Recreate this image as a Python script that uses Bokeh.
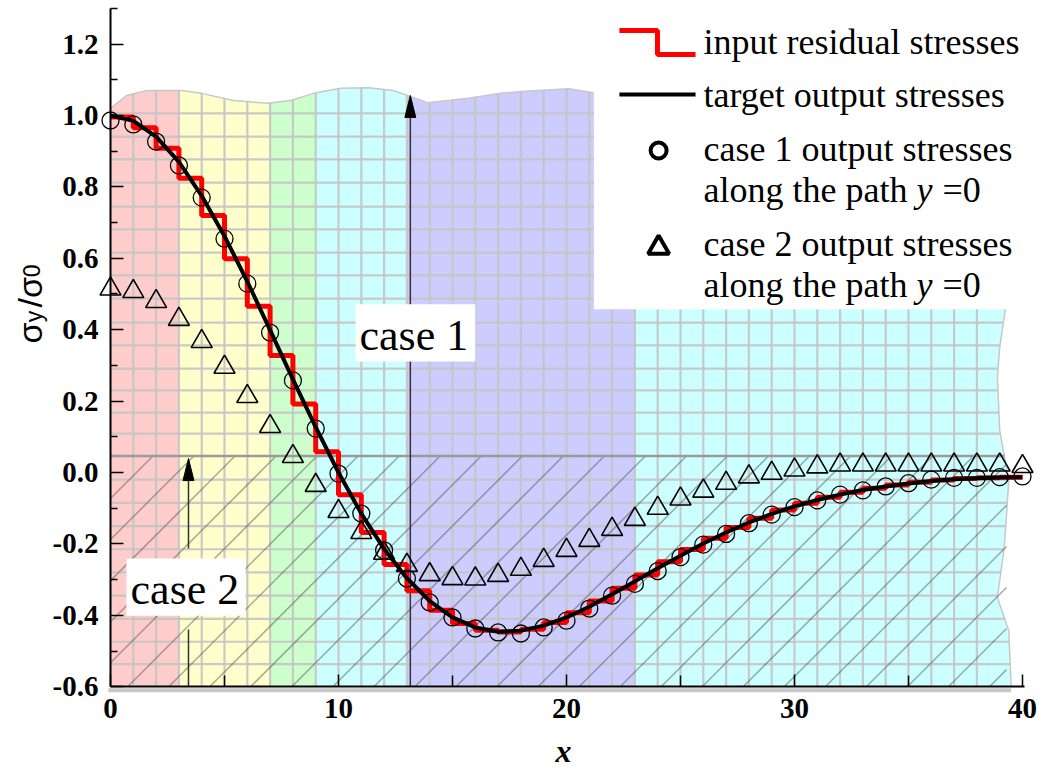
import numpy as np
from math import pi
from bokeh.plotting import figure
from bokeh.models import Range1d, FixedTicker, PrintfTickFormatter, Label
from bokeh.embed import file_html
from bokeh.resources import INLINE

# ---------------- data ----------------
x_nodes = list(range(41))
target = [1.000, 0.985, 0.941, 0.870, 0.775, 0.662, 0.535, 0.399, 0.261, 0.127,
          0.000, -0.115, -0.214, -0.296, -0.360, -0.406, -0.434, -0.446, -0.443, -0.429,
          -0.406, -0.376, -0.341, -0.305, -0.268, -0.233, -0.199, -0.168, -0.140, -0.116,
          -0.095, -0.077, -0.062, -0.049, -0.039, -0.031, -0.024, -0.019, -0.016, -0.014,
          -0.013]
case1 = [0.986, 0.975, 0.927, 0.860, 0.770, 0.655, 0.529, 0.392, 0.258, 0.123,
         -0.003, -0.115, -0.218, -0.297, -0.364, -0.406, -0.437, -0.448, -0.451, -0.434,
         -0.415, -0.381, -0.345, -0.312, -0.276, -0.237, -0.202, -0.172, -0.142, -0.118,
         -0.097, -0.078, -0.062, -0.050, -0.039, -0.030, -0.020, -0.015, -0.015, -0.013,
         -0.011]
case2 = [0.514, 0.507, 0.479, 0.429, 0.367, 0.295, 0.213, 0.129, 0.045, -0.036,
         -0.109, -0.168, -0.226, -0.260, -0.286, -0.297, -0.298, -0.288, -0.271, -0.246,
         -0.218, -0.190, -0.159, -0.131, -0.100, -0.074, -0.052, -0.030, -0.012, -0.002,
         0.007, 0.016, 0.021, 0.021, 0.021, 0.021, 0.021, 0.021, 0.021, 0.021,
         0.017]
# input residual stresses: one value per unit interval [i, i+1]
step_edges = list(range(41))
step_vals = [0.996, 0.966, 0.908, 0.824, 0.720, 0.599, 0.466, 0.328, 0.192, 0.058,
             -0.062, -0.168, -0.258, -0.331, -0.386, -0.423, -0.442, -0.447, -0.439, -0.420,
             -0.393, -0.360, -0.324, -0.287, -0.250, -0.216, -0.184, -0.154, -0.128, -0.105,
             -0.086, -0.069, -0.055, -0.044, -0.035, -0.027, -0.021, -0.017, -0.015, -0.013]

x_ticks = [0, 10, 20, 30, 40]
x_minor = [5, 15, 25, 35]
y_ticks = [-0.6, -0.4, -0.2, 0.0, 0.2, 0.4, 0.6, 0.8, 1.0, 1.2]
y_minor = [-0.5, -0.3, -0.1, 0.1, 0.3, 0.5, 0.7, 0.9, 1.1, 1.3]

# background (mesh picture) geometry
band_edges = [0, 3, 7, 9, 13, 23]
band_colors = ["#ffcccc", "#ffffcc", "#ccffcc", "#ccffff", "#ccccff", "#ccffff"]
top_x = [0, 0.7, 1.6, 3.1, 4.0, 5.4, 6.9, 7.9, 8.9, 10.1, 11.3, 12.4, 13.3, 13.9, 15.7, 17.1, 18.0, 20.1, 21.5, 39.3]
top_y = [1.02, 1.056, 1.070, 1.070, 1.062, 1.042, 1.034, 1.042, 1.062, 1.076, 1.078, 1.070, 1.050, 1.036, 1.048, 1.062, 1.067, 1.075, 1.06, 1.06]
right_x = [39.3, 39.3, 39.0, 38.9, 39.0, 39.4, 39.2, 38.9, 39.4, 39.5]
right_y = [1.06, 0.48, 0.35, 0.266, 0.118, -0.022, -0.21, -0.35, -0.443, -0.6]
mesh_y = [-0.537, -0.474, -0.410, -0.345, -0.280, -0.215, -0.150, -0.085, -0.020,
          0.109, 0.168, 0.230, 0.291, 0.356, 0.420, 0.487, 0.552, 0.616, 0.681, 0.745,
          0.812, 0.877, 0.941, 1.006]
sym_y = 0.046
Y0 = -0.6

def top_at(x):
    return float(np.interp(x, top_x, top_y))

ry_asc = right_y[::-1]
rx_asc = right_x[::-1]
def right_at(y):
    return float(np.interp(y, ry_asc, rx_asc))

# frame fills the whole canvas; the axes sit at fixed data locations
p = figure(width=1039, height=776, x_range=Range1d(-4.825, 40.746), y_range=Range1d(-0.8515, 1.3221),
           output_backend="svg", toolbar_location=None,
           min_border_left=0, min_border_right=0, min_border_top=0, min_border_bottom=0)
p.xgrid.visible = False
p.ygrid.visible = False
p.outline_line_color = None
p.background_fill_color = "white"
p.border_fill_color = "white"

# colour bands
bxs, bys = [], []
for i, a in enumerate(band_edges):
    if i < len(band_edges) - 1:
        b = band_edges[i + 1]
        xs = [a] + [t for t in top_x if a < t < b] + [b]
        ys = [top_at(v) for v in xs]
        xs = xs + [b, a]
        ys = ys + [Y0, Y0]
    else:
        xs = [a] + [t for t in top_x if a < t < right_x[0]] + [right_x[0]]
        ys = [top_at(v) for v in xs]
        xs = xs + right_x[1:] + [a]
        ys = ys + right_y[1:] + [Y0]
    bxs.append(xs)
    bys.append(ys)
p.patches(bxs, bys, fill_color=band_colors, line_color=None)
p.line(top_x, top_y, line_color="#c8c8c8", line_width=1.5)
p.line(right_x, right_y, line_color="#c8c8c8", line_width=1.5)

# mesh lines
vx = list(range(1, 39))
p.segment(x0=vx, y0=[Y0] * len(vx), x1=vx, y1=[top_at(v) for v in vx],
          line_color="#c4c4c4", line_width=2.2, line_alpha=0.9)
p.segment(x0=[0] * len(mesh_y), y0=mesh_y, x1=[right_at(v) for v in mesh_y], y1=mesh_y,
          line_color="#c4c4c4", line_width=2.2, line_alpha=0.9)

# hatching below the symmetry line
slope = 0.0639
spacing = 1.8
hx0, hy0, hx1, hy1 = [], [], [], []
b = -8.25
while b < 39.3:
    xs_ = max(b, 0.0)
    xe = min(b + (sym_y - Y0) / slope, 39.3)
    if xe > xs_:
        hx0.append(xs_); hy0.append(Y0 + (xs_ - b) * slope)
        hx1.append(xe); hy1.append(Y0 + (xe - b) * slope)
    b += spacing
p.segment(x0=hx0, y0=hy0, x1=hx1, y1=hy1, line_color="#555555", line_alpha=0.5, line_width=1.5)
p.segment(x0=[0], y0=[sym_y], x1=[right_at(sym_y)], y1=[sym_y], line_color="#9a9a9a", line_width=2.5)
# grey mesh edge just under the x axis
p.segment(x0=[-0.1], y0=[-0.61], x1=[39.5], y1=[-0.61], line_color="#c8c8c8", line_width=4)

# arrows (case markers)
arrow_lines = [(13.15, -0.6, 0.994), (3.42, -0.6, -0.44), (3.42, -0.213, -0.022)]
p.segment(x0=[a[0] for a in arrow_lines], y0=[a[1] for a in arrow_lines],
          x1=[a[0] for a in arrow_lines], y1=[a[2] for a in arrow_lines],
          line_color="#333333", line_width=1.5)
heads = [(13.15, 1.056), (3.42, 0.039)]
p.patches([[h[0] - 0.24, h[0], h[0] + 0.24] for h in heads],
          [[h[1] - 0.0616, h[1], h[1] - 0.0616] for h in heads],
          fill_color="black", line_color="black", line_width=1)

# white boxes: legend, case labels
p.quad(left=[21.2, 10.75, 0.70], right=[41, 16.0, 5.92], bottom=[0.457, 0.311, -0.401],
       top=[1.4, 0.471, -0.241], fill_color="white", line_color=None)

# data series
p.step(step_edges, step_vals + [step_vals[-1]], mode="after", line_color="#ff0000", line_width=5)
p.line(x_nodes, target, line_color="black", line_width=4)
p.scatter(x_nodes, case1, marker="circle", size=17, fill_alpha=0, line_color="black", line_width=1.3)
p.scatter(x_nodes, case2, marker="triangle", size=21, fill_alpha=0, line_color="black", line_width=1.6)

# legend symbols
p.line([22.32, 23.99, 23.99, 25.66], [1.238, 1.238, 1.171, 1.171], line_color="#ff0000", line_width=5)
p.line([22.32, 25.66], [1.059, 1.059], line_color="black", line_width=4)
p.scatter([24.04], [0.902], marker="circle", size=16, fill_alpha=0, line_color="black", line_width=4)
p.scatter([24.04], [0.630], marker="triangle", size=21, fill_alpha=0, line_color="black", line_width=4)

SERIF = "Liberation Serif"
def lab(x, y, t, size, font=SERIF, style="normal", angle=0, align="left"):
    p.add_layout(Label(x=x, y=y, text=t, text_font=font, text_font_size=size,
                       text_font_style=style, angle=angle, text_align=align,
                       text_baseline="alphabetic", text_color="black"))

legend_rows = [("input residual stresses", 1.206), ("target output stresses", 1.058),
               ("case 1 output stresses", 0.907), ("along the path", 0.792),
               ("case 2 output stresses", 0.641), ("along the path", 0.526)]
for t, yy in legend_rows:
    lab(26.01, yy, t, "36px")
for yy in (0.792, 0.526):
    lab(35.35, yy, "y", "36px", style="italic")
    lab(36.49, yy, "=0", "36px")

lab(10.92, 0.384, "case 1", "44px")
lab(0.88, -0.327, "case 2", "44px")

# axis titles
lab(19.87, -0.779, "x", "32px", style="bold italic", align="center")
lab(-3.55, 0.361, "σ", "34px", font="Liberation Sans", angle=pi / 2)
lab(-3.35, 0.421, "y", "23px", font="Liberation Sans", angle=pi / 2)
lab(-3.55, 0.462, "/σ", "34px", font="Liberation Sans", angle=pi / 2)
lab(-3.45, 0.547, "0", "23px", font="Liberation Sans", angle=pi / 2)

# axes (fixed inside the canvas-sized frame)
xa = p.xaxis[0]
ya = p.yaxis[0]
xa.fixed_location = -0.6
ya.fixed_location = 0
xa.bounds = (0, 40.1)
ya.bounds = (-0.6, 1.3)
for ax in (xa, ya):
    ax.axis_line_width = 2
    ax.axis_line_color = "black"
    ax.major_tick_out = 0
    ax.minor_tick_out = 0
    ax.major_tick_line_width = 1.5
    ax.minor_tick_line_width = 1.5
    ax.major_label_text_font = SERIF
    ax.major_label_text_font_style = "bold"
    ax.major_label_text_font_size = "29px"
    ax.major_label_text_color = "black"
xa.ticker = FixedTicker(ticks=x_ticks, minor_ticks=x_minor)
xa.major_tick_in = 12
xa.minor_tick_in = 11
xa.major_label_standoff = 12
xa.formatter = PrintfTickFormatter(format="%d")
ya.ticker = FixedTicker(ticks=y_ticks, minor_ticks=y_minor)
ya.major_tick_in = 13
ya.minor_tick_in = 7
ya.major_label_standoff = 12
ya.formatter = PrintfTickFormatter(format="%.1f")

open("out.html", "w").write(file_html(p, INLINE))
